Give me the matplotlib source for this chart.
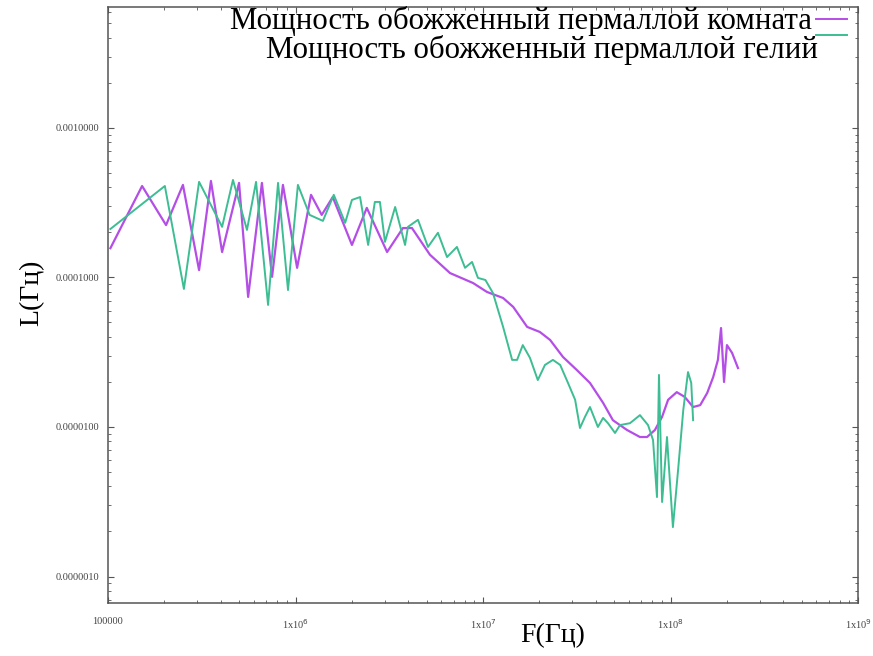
import matplotlib
matplotlib.use("Agg")
import matplotlib.pyplot as plt
from matplotlib.lines import Line2D
from matplotlib.ticker import FixedLocator, LogLocator, NullFormatter

# Series 1: annealed permalloy, room temperature
freq_room = [1.03e5, 1.52e5, 2.04e5, 2.51e5, 3.06e5, 3.54e5, 4.06e5, 5.00e5,
             5.59e5, 6.62e5, 7.50e5, 8.57e5, 1.02e6, 1.21e6, 1.38e6, 1.58e6,
             2.00e6, 2.40e6, 3.08e6, 3.74e6, 4.18e6, 5.21e6, 6.67e6, 8.85e6,
             1.05e7, 1.28e7, 1.45e7, 1.72e7, 2.01e7, 2.28e7, 2.67e7, 3.17e7,
             3.72e7, 4.37e7, 4.93e7, 5.86e7, 6.87e7, 7.50e7, 8.26e7, 9.02e7,
             9.71e7, 1.08e8, 1.19e8, 1.32e8, 1.44e8, 1.57e8, 1.69e8, 1.79e8,
             1.86e8, 1.93e8, 2.00e8, 2.13e8, 2.29e8]
power_room = [1.57e-4, 4.09e-4, 2.24e-4, 4.16e-4, 1.12e-4, 4.42e-4, 1.48e-4, 4.29e-4,
              7.41e-5, 4.29e-4, 1.01e-4, 4.16e-4, 1.16e-4, 3.57e-4, 2.62e-4, 3.45e-4,
              1.65e-4, 2.92e-4, 1.48e-4, 2.14e-4, 2.14e-4, 1.42e-4, 1.07e-4, 9.18e-5,
              8.00e-5, 7.29e-5, 6.35e-5, 4.67e-5, 4.32e-5, 3.82e-5, 2.94e-5, 2.40e-5,
              1.97e-5, 1.45e-5, 1.11e-5, 9.55e-6, 8.57e-6, 8.57e-6, 9.55e-6, 1.17e-5,
              1.52e-5, 1.71e-5, 1.59e-5, 1.36e-5, 1.40e-5, 1.69e-5, 2.16e-5, 2.81e-5,
              4.59e-5, 2.00e-5, 3.53e-5, 3.13e-5, 2.48e-5]

# Series 2: annealed permalloy, helium temperature
freq_he = [1.03e5, 2.01e5, 2.54e5, 3.06e5, 4.06e5, 4.64e5, 5.51e5, 6.16e5,
           7.14e5, 8.07e5, 9.12e5, 1.03e6, 1.19e6, 1.40e6, 1.60e6, 1.84e6,
           2.00e6, 2.21e6, 2.44e6, 2.65e6, 2.82e6, 3.00e6, 3.40e6, 3.84e6,
           3.98e6, 4.50e6, 5.09e6, 5.75e6, 6.43e6, 7.26e6, 8.02e6, 8.74e6,
           9.40e6, 1.03e7, 1.13e7, 1.28e7, 1.43e7, 1.52e7, 1.63e7, 1.78e7,
           1.96e7, 2.14e7, 2.36e7, 2.58e7, 2.84e7, 3.10e7, 3.29e7, 3.50e7,
           3.72e7, 4.10e7, 4.37e7, 4.64e7, 5.06e7, 5.38e7, 6.08e7, 6.87e7,
           7.59e7, 8.07e7, 8.47e7, 8.68e7, 9.02e7, 9.58e7, 9.70e7, 1.03e8,
           1.10e8, 1.17e8, 1.24e8, 1.29e8, 1.32e8]
power_he = [2.11e-4, 4.09e-4, 8.38e-5, 4.36e-4, 2.18e-4, 4.49e-4, 2.08e-4, 4.36e-4,
            6.55e-5, 4.29e-4, 8.24e-5, 4.16e-4, 2.62e-4, 2.39e-4, 3.57e-4, 2.32e-4,
            3.30e-4, 3.45e-4, 1.65e-4, 3.20e-4, 3.20e-4, 1.73e-4, 2.96e-4, 1.65e-4,
            2.18e-4, 2.43e-4, 1.60e-4, 1.99e-4, 1.37e-4, 1.60e-4, 1.16e-4, 1.27e-4,
            9.93e-5, 9.62e-5, 7.87e-5, 4.67e-5, 2.81e-5, 2.81e-5, 3.53e-5, 2.90e-5,
            2.06e-5, 2.60e-5, 2.81e-5, 2.60e-5, 1.97e-5, 1.52e-5, 9.84e-6, 1.17e-5,
            1.36e-5, 1.00e-5, 1.15e-5, 1.06e-5, 9.12e-6, 1.03e-5, 1.06e-5, 1.20e-5,
            1.03e-5, 8.18e-6, 3.40e-6, 2.23e-5, 3.15e-6, 8.57e-6, 6.70e-6, 2.14e-6,
            5.32e-6, 1.30e-5, 2.33e-5, 1.97e-5, 1.11e-5]

label_room = "Мощность обожженный пермаллой комната"
label_he = "Мощность обожженный пермаллой гелий"

x_ticks = [1e5, 1e6, 1e7, 1e8, 1e9]
x_tick_labels = ["100000", r"1x10$^{6}$", r"1x10$^{7}$", r"1x10$^{8}$", r"1x10$^{9}$"]
y_ticks = [1e-6, 1e-5, 1e-4, 1e-3]
y_tick_labels = ["0.0000010", "0.0000100", "0.0001000", "0.0010000"]

color_room = "#b44ee6"
color_he = "#3dbd93"

W, H = 873, 656
fig = plt.figure(figsize=(W / 100, H / 100), dpi=100)
ax = fig.add_axes([108 / W, 1 - 603 / H, 750 / W, 596 / H])

ax.plot(freq_room, power_room, color=color_room, lw=1.6)
ax.plot(freq_he, power_he, color=color_he, lw=1.4)

ax.set_xscale("log")
ax.set_yscale("log")
ax.set_xlim(1e5, 1e9)
ax.set_ylim(6.65e-7, 6.44e-3)

tick_font = dict(family="Liberation Serif", size=7.5, color="#444444")
ax.xaxis.set_major_locator(FixedLocator(x_ticks))
ax.set_xticklabels(x_tick_labels, **tick_font)
ax.yaxis.set_major_locator(FixedLocator(y_ticks))
ax.set_yticklabels(y_tick_labels, **tick_font)
ax.xaxis.set_minor_locator(LogLocator(base=10, subs=range(2, 10), numticks=20))
ax.yaxis.set_minor_locator(LogLocator(base=10, subs=range(2, 10), numticks=20))
ax.xaxis.set_minor_formatter(NullFormatter())
ax.yaxis.set_minor_formatter(NullFormatter())

ax.tick_params(which="both", direction="in", top=True, right=True, color="#555555")
ax.tick_params(which="major", length=4, width=0.8)
ax.tick_params(which="minor", length=2, width=0.6)
ax.tick_params(axis="x", which="major", pad=10)
ax.tick_params(axis="y", which="major", pad=6)

for s in ax.spines.values():
    s.set_color("#555555")
    s.set_linewidth(1.1)

label_font = dict(family="Liberation Serif", size=20, color="black")
fig.text(553 / W, 1 - 636 / H, "F(Гц)", ha="center", va="center", **label_font)
fig.text(32 / W, 1 - 293 / H, "L(Гц)", ha="center", va="center", rotation=90, **label_font)

# key: right-aligned text followed by a line sample
legend_font = dict(family="Liberation Serif", size=22.2, color="black")
fig.text(812 / W, 1 - 21 / H, label_room, ha="right", va="center", **legend_font)
fig.text(818 / W, 1 - 50 / H, label_he, ha="right", va="center", **legend_font)
fig.add_artist(Line2D([816 / W, 847 / W], [1 - 19 / H, 1 - 19 / H],
                      color=color_room, lw=1.4, transform=fig.transFigure))
fig.add_artist(Line2D([816 / W, 847 / W], [1 - 35 / H, 1 - 35 / H],
                      color=color_he, lw=1.4, transform=fig.transFigure))

fig.savefig("out.png", dpi=100)
